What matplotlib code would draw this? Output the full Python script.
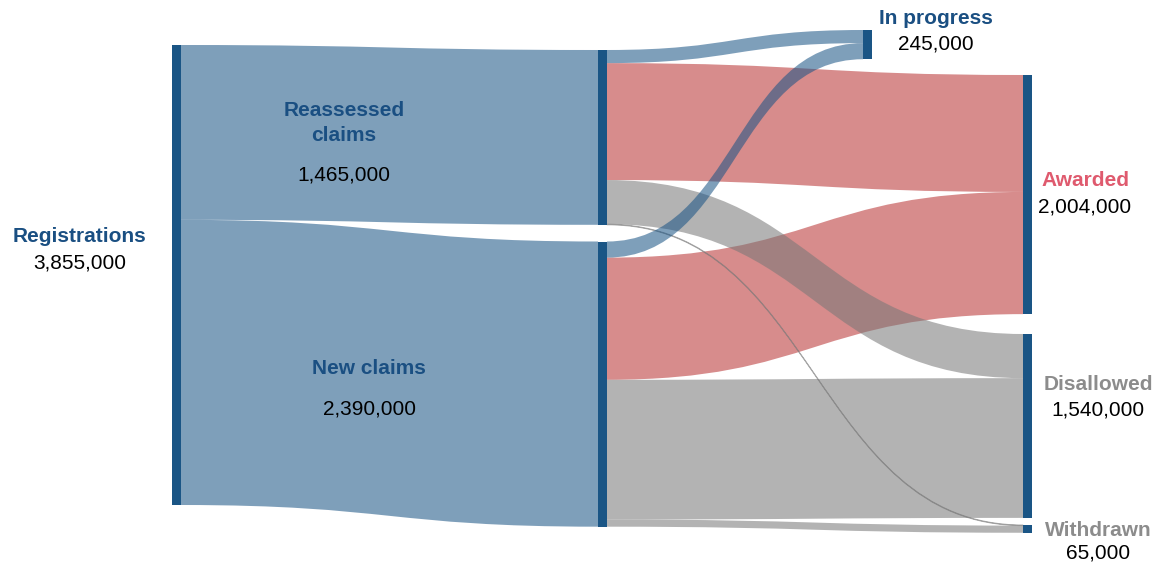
import matplotlib
matplotlib.use("Agg")
import matplotlib.pyplot as plt
from matplotlib.path import Path
from matplotlib.patches import PathPatch, Rectangle

plt.rcParams['font.family'] = ['Liberation Sans', 'DejaVu Sans']

# ---- Data ----
node_names = ["Registrations", "Reassessed claims", "New claims", "In progress",
              "Awarded", "Disallowed", "Withdrawn"]
node_values = [3855000, 1465000, 2390000, 245000, 2004000, 1540000, 65000]
node_labels = ["Registrations", "Reassessed\nclaims", "New claims", "In progress",
               "Awarded", "Disallowed", "Withdrawn"]

link_source = [0, 0, 1, 1, 1, 1, 2, 2, 2, 2]
link_target = [1, 2, 3, 4, 5, 6, 3, 4, 5, 6]
link_value = [1465000, 2390000,
              110000, 980000, 370000, 5000,
              135000, 1024000, 1171000, 60000]

# ---- Layout (pixel space) ----
W, H = 1155, 563
node_x = [172, 598, 598, 863, 1023, 1023, 1023]
node_top = [45, 50, 241.5, 30, 75, 334, 525]
node_w = 9
scale = 460 / node_values[0]  # px per registration

# label anchor (name centre x, name centre y, gap to value)
label_pos = [(80, 237, 26), (344, 123, 52), (369, 369, 40), (936, 19, 25),
             (1085, 180, 27), (1098, 384, 26), (1098, 530, 23)]

navy = "#1a5585"
label_colors = ["#1a4f82", "#1a4f82", "#1a4f82", "#1a4f82",
                "#df5a6e", "#8c8c8c", "#8c8c8c"]
blue = (0.10, 0.33, 0.52)
red = (0.72, 0.20, 0.20)
grey = (0.47, 0.47, 0.47)
link_colors = {1: blue, 2: blue, 3: blue, 4: red, 5: grey, 6: grey}
link_z = {1: 1, 2: 1, 3: 2.5, 4: 1.5, 5: 2, 6: 2}
alpha = 0.56

fig = plt.figure(figsize=(W / 100, H / 100), dpi=100)
ax = fig.add_axes([0, 0, 1, 1])
ax.set_xlim(0, W)
ax.set_ylim(H, 0)
ax.axis("off")

out_off = [0.0] * len(node_names)
in_off = [0.0] * len(node_names)

for s, t, v in zip(link_source, link_target, link_value):
    h = v * scale
    x0 = node_x[s] + node_w
    x1 = node_x[t]
    ys = node_top[s] + out_off[s]
    yt = node_top[t] + in_off[t]
    out_off[s] += h
    in_off[t] += h
    xm = (x0 + x1) / 2
    verts = [(x0, ys), (xm, ys), (xm, yt), (x1, yt),
             (x1, yt + h), (xm, yt + h), (xm, ys + h), (x0, ys + h), (x0, ys)]
    codes = [Path.MOVETO, Path.CURVE4, Path.CURVE4, Path.CURVE4,
             Path.LINETO, Path.CURVE4, Path.CURVE4, Path.CURVE4, Path.CLOSEPOLY]
    col = link_colors[t]
    if h < 2:
        patch = PathPatch(Path(verts, codes), facecolor=col, edgecolor=col,
                          lw=0.7, alpha=alpha, zorder=link_z[t])
    else:
        patch = PathPatch(Path(verts, codes), facecolor=col, edgecolor="none",
                          alpha=alpha, zorder=link_z[t])
    ax.add_patch(patch)

for i, v in enumerate(node_values):
    ax.add_patch(Rectangle((node_x[i], node_top[i]), node_w, v * scale,
                           facecolor=navy, edgecolor="none", zorder=3))
    lx, ly, gap = label_pos[i]
    ax.text(lx, ly, node_labels[i], ha="center", va="center", fontsize=15,
            fontweight="bold", color=label_colors[i], linespacing=1.4, zorder=4)
    ax.text(lx, ly + gap, f"{v:,}", ha="center", va="center", fontsize=15,
            color="black", zorder=4)

fig.savefig("out.png", dpi=100)
